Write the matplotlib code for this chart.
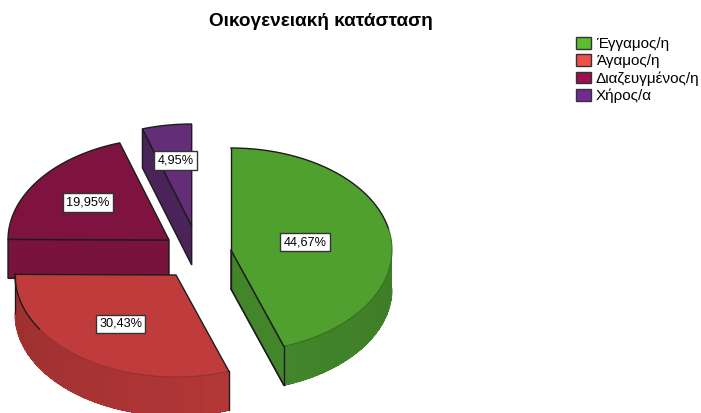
import numpy as np
import matplotlib
matplotlib.use('Agg')
import matplotlib.pyplot as plt
from matplotlib.patches import Patch, Polygon

plt.rcParams['font.family'] = ['Liberation Sans', 'DejaVu Sans']

title = 'Οικογενειακή κατάσταση'
categories = ['Έγγαμος/η', 'Άγαμος/η', 'Διαζευγμένος/η', 'Χήρος/α']
percent = [44.67, 30.43, 19.95, 4.95]

legend_colors = ['#5abd30', '#ef4f49', '#9c1050', '#702b90']
top_colors = ['#50a030', '#c03c3c', '#7f1340', '#642d78']
side_colors = ['#42852a', '#ad3535', '#7a123e', '#4a2358']

# pixel position of each slice tip, the slices are pulled apart
tips = [(231, 250), (176, 275), (169, 240), (191.7, 226)]
label_r = [0.466, 0.59, 0.623, 0.65]
rx, ry, depth = 161, 102, 39
edge = '#1c1c1c'


def ell(tip, deg):
    a = np.radians(deg)
    return np.column_stack([tip[0] + rx*np.sin(a), tip[1] - ry*np.cos(a)])


fig = plt.figure(figsize=(7.01, 4.13), dpi=100)
ax = fig.add_axes([0, 0, 1, 1])
ax.set_xlim(0, 701)
ax.set_ylim(413, 0)
ax.axis('off')

ends = np.cumsum(percent)*3.6
starts = np.r_[0, ends[:-1]]

# purple and maroon at the back, then red and green
for i in [3, 2, 1, 0]:
    tip = tips[i]
    s, e = starts[i], ends[i]
    arc = ell(tip, np.linspace(s, e, 120))
    down = np.array([0, depth])

    # flat cut faces that look at the viewer
    if i == 0:
        p = ell(tip, e)[0]
        ax.add_patch(Polygon([tip, p, p+down, np.array(tip)+down], fc=side_colors[i], ec=edge, lw=1))
    if i == 2:
        p = ell(tip, s)[0]
        ax.add_patch(Polygon([tip, p, p+down, np.array(tip)+down], fc=side_colors[i], ec=edge, lw=1))
    if i == 3:
        p = ell(tip, s)[0]
        ax.add_patch(Polygon([tip, p, p+down, np.array(tip)+down], fc=side_colors[i], ec=edge, lw=1))

    # curved outer wall in bands
    if i in (0, 1):
        lo, hi = (90, e) if i == 0 else (s, 270)
        marks = np.linspace(lo, hi, 13)
        base = np.array(matplotlib.colors.to_rgb(side_colors[i]))
        for k in range(len(marks)-1):
            band = ell(tip, np.linspace(marks[k], marks[k+1], 10))
            if i == 0:
                shade = 0.93 + 0.07*k/11
            else:
                shade = 1.03 - 0.13*k/11
            ax.add_patch(Polygon(np.vstack([band, (band+down)[::-1]]),
                                 fc=np.clip(base*shade, 0, 1), ec='none', aa=False))
        wall = ell(tip, np.linspace(lo, hi, 80))
        ax.plot(*(wall+down).T, color=side_colors[i], lw=0.8)

    ax.add_patch(Polygon(np.vstack([tip, arc]), fc=top_colors[i], ec='none'))

    # outline of the top face, front part of the rim stays soft
    if i == 0:
        ax.plot(*ell(tip, np.linspace(s, 78, 80)).T, color=edge, lw=1)
        ax.plot(*ell(tip, np.linspace(78, e, 80)).T, color='#38701f', lw=0.8)
        ax.plot([231, 231], [148, 250+depth], color=edge, lw=1)
        ax.plot(*np.vstack([tip, ell(tip, e)]).T, color=edge, lw=1)
        p = ell(tip, e)[0]
        ax.plot([p[0], p[0]], [p[1], p[1]+depth], color=edge, lw=1)
        ax.plot([231, p[0]], [250+depth, p[1]+depth], color=edge, lw=1)
    elif i == 1:
        ax.plot(*ell(tip, np.linspace(s, 238, 80)).T, color='#96302f', lw=0.8)
        ax.plot(*ell(tip, np.linspace(238, e, 60)).T, color=edge, lw=1)
        ax.plot(*np.vstack([ell(tip, s), tip, ell(tip, e)]).T, color=edge, lw=1)
        p = ell(tip, s)[0]
        ax.plot([p[0], p[0]], [p[1], p[1]+depth], color=edge, lw=1)
        q = ell(tip, e)[0]
        ax.plot([q[0], q[0]], [q[1], q[1]+depth], color=edge, lw=1)
    else:
        ax.add_patch(Polygon(np.vstack([tip, arc]), fc='none', ec=edge, lw=1))

for i, v in enumerate(percent):
    mid = (starts[i]+ends[i])/2
    x, y = ell(tips[i], mid*1.0)[0]
    x = tips[i][0] + (x-tips[i][0])*label_r[i]
    y = tips[i][1] + (y-tips[i][1])*label_r[i]
    ax.text(x, y, f'{v:.2f}%'.replace('.', ','), ha='center', va='center', fontsize=9.2,
            color='black', zorder=10,
            bbox=dict(boxstyle='square,pad=0.25', fc='white', ec='#333333', lw=1))

ax.text(320.5, 21, title, ha='center', va='center', fontsize=13.7, fontweight='bold')

handles = [Patch(fc=c, ec='#333333', lw=1) for c in legend_colors]
ax.legend(handles, categories, loc='upper left', bbox_to_anchor=(576/701, 1-37/413),
          frameon=False, fontsize=11, labelspacing=0.2, handlelength=1.0, handleheight=0.8,
          handletextpad=0.3, borderpad=0, borderaxespad=0)

fig.savefig('out.png', dpi=100)
